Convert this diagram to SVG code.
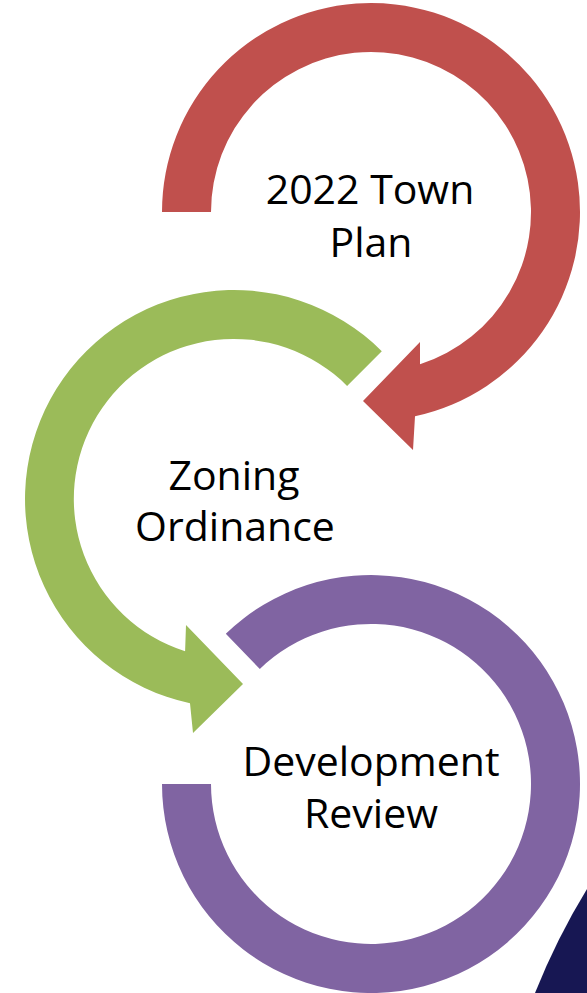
<svg xmlns="http://www.w3.org/2000/svg" width="587" height="993" viewBox="0 0 587 993">
<style>
text{font-family:"Open Sans","Noto Sans","Liberation Sans",sans-serif;font-size:41px;fill:#000;text-anchor:middle}
.red{fill:#C0504D}.green{fill:#9BBB59}.purple{fill:#8064A2}
</style>
<rect width="587" height="993" fill="#fff"/>
<path d="M535 993 Q557 938 587 889 L587 993 Z" fill="#171753"/>
<g id="town-plan">
<path class="red" d="M162 212 A209 209 0 1 1 415 416.3 L413 450 L363 401 L420 342 L420 364.3 A160 160 0 1 0 211 212 Z"/>
<text x="370" y="204">2022 Town</text>
<text x="371" y="257">Plan</text>
</g>
<g id="zoning-ordinance">
<path class="green" d="M381.8 351.2 A209 209 0 1 0 190 703.3 L193 733 L243 684 L186 625 L185.1 651.3 A160 160 0 1 1 347.1 385.9 Z"/>
<text x="234" y="490">Zoning</text>
<text x="235" y="541">Ordinance</text>
</g>
<g id="development-review">
<path class="purple" d="M225.8 633.7 A209 209 0 1 1 162 784 L211 784 A160 160 0 1 0 259.8 668.9 Z"/>
<text x="371" y="776">Development</text>
<text x="371" y="828">Review</text>
</g>
</svg>
